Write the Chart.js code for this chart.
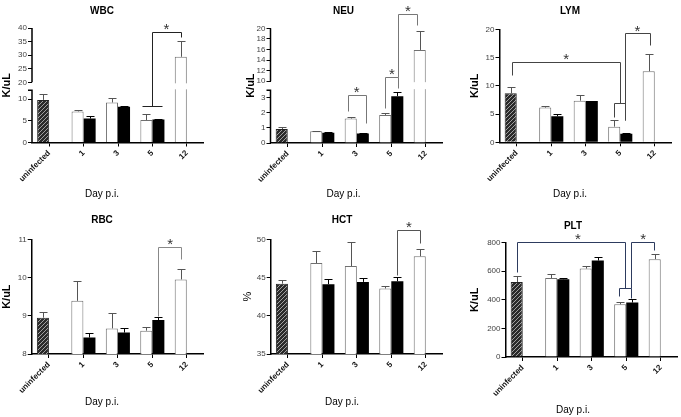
<!DOCTYPE html>
<html lang="en">
<head>
<meta charset="UTF-8">
<title>Blood counts after infection</title>
<style>
  body { margin: 0; background: #fff; }
  #fig { position: relative; width: 681px; height: 417px; overflow: hidden; }
  #fig canvas { position: absolute; }
</style>
<script src="https://cdn.jsdelivr.net/npm/chart.js@4"></script>
</head>
<body>
<div id="fig"></div>
<script>
// categories (x axis)
const days = ['uninfected', '1', '3', '5', '12'];

// open bars (index 0 = uninfected, drawn hatched) and filled bars, with upper error (SEM)
const wbcOpen = [9.8, 7.15, 9.2, 5.15, 29.4];
const wbcOpenErr = [1.35, 0.35, 1.0, 1.35, 5.7];
const wbcFilled = [null, 5.5, 8.2, 5.3, null];
const wbcFilledErr = [null, 0.6, 0.1, 0.1, null];
const wbcTicks = [0, 5, 10, 20, 25, 30, 35, 40];

const neuOpen = [0.92, 0.77, 1.62, 1.86, 15.9];
const neuOpenErr = [0.13, 0.03, 0.08, 0.11, 3.65];
const neuFilled = [null, 0.68, 0.63, 3.1, null];
const neuFilledErr = [null, 0.03, 0.03, 0.27, null];
const neuTicks = [0, 1, 2, 3, 10, 12, 14, 16, 18, 20];

const lymOpen = [8.67, 6.14, 7.37, 2.77, 12.57];
const lymOpenErr = [1.18, 0.36, 0.93, 1.18, 3.13];
const lymFilled = [null, 4.6, 7.3, 1.53, null];
const lymFilledErr = [null, 0.47, 0.07, 0.18, null];
const lymTicks = [0, 5, 10, 15, 20];

const rbcOpen = [8.95, 9.39, 8.67, 8.61, 9.95];
const rbcOpenErr = [0.16, 0.53, 0.39, 0.1, 0.27];
const rbcFilled = [null, 8.43, 8.56, 8.89, null];
const rbcFilledErr = [null, 0.11, 0.11, 0.08, null];
const rbcTicks = [8, 9, 10, 11];

const hctOpen = [44.2, 46.9, 46.5, 43.57, 47.78];
const hctOpenErr = [0.45, 1.6, 3.15, 0.3, 1.0];
const hctFilled = [null, 44.13, 44.43, 44.52, null];
const hctFilledErr = [null, 0.67, 0.57, 0.57, null];
const hctTicks = [35, 40, 45, 50];

const pltOpen = [525, 553, 619, 369, 685];
const pltOpenErr = [42, 28, 21, 19, 35];
const pltFilled = [null, 544, 675, 381, null];
const pltFilledErr = [null, 9, 24, 28, null];
const pltTicks = [0, 200, 400, 600, 800];

// significance brackets: polyline in (category index, value), star over the top bar
const wbcBrackets = [
  { path: [[2.7, 8.4], [3.27, 8.4]] },
  { path: [[3, 8.4], [3, 38.7], [3.84, 38.7], [3.84, 36.6]], star: [3.41, 38.7] }
];
const neuBrackets = [
  { path: [[1.74, 2.1], [1.74, 3.2], [2.27, 3.2], [2.27, 1.3]], star: [2.0, 3.2] },
  { path: [[2.83, 2.35], [2.83, 10.8], [3.21, 10.8], [3.21, 5]], star: [3.02, 10.8] },
  { path: [[3.21, 10.8], [3.21, 22.8], [3.76, 22.8], [3.76, 20.6]], star: [3.48, 22.8] }
];
const lymBrackets = [
  { path: [[-0.15, 11.9], [-0.15, 14.27], [3, 14.27], [3, 6.9]], star: [1.43, 14.27] },
  { path: [[2.81, 4.5], [2.81, 6.9], [3.15, 6.9], [3.15, 3.95]] },
  { path: [[3.15, 3.95], [3.15, 19.3], [3.855, 19.3], [3.855, 17.2]], star: [3.5, 19.3] }
];
const rbcBrackets = [
  { path: [[3.17, 9.0], [3.17, 10.8], [3.84, 10.8], [3.84, 10.49]], star: [3.52, 10.8] }
];
const hctBrackets = [
  { path: [[3.17, 45.3], [3.17, 51.26], [3.84, 51.26], [3.84, 49.56]], star: [3.51, 51.26] }
];
const pltBrackets = [
  { path: [[-0.18, 597], [-0.18, 805], [2.95, 805], [2.95, 480]], star: [1.6, 805] },
  { path: [[2.8, 428], [2.8, 480], [3.15, 480], [3.15, 416]] },
  { path: [[3.15, 480], [3.15, 805], [3.81, 805], [3.81, 752]], star: [3.49, 805] }
];

const NARROW = "'Liberation Sans Narrow', 'Arial Narrow', Arial, sans-serif";
const SANS = "'Liberation Sans', Arial, sans-serif";

// panel boxes in page pixels: canvas left/top, chart area, title and x title centres
const panels = [
  { id: 'wbc', title: 'WBC', yTitle: 'K/uL', open: wbcOpen, openErr: wbcOpenErr, filled: wbcFilled, filledErr: wbcFilledErr,
    ticks: wbcTicks, min: 0, max: 40, brk: { lo: 12, hi: 20, loFrac: 0.49, gap: 8 }, brackets: wbcBrackets, bracketColor: '#222',
    box: { L: 0, T: 0, CL: 32, CR: 204, CT: 28, CB: 142.5, titleY: 11, xTitleY: 193.5 } },
  { id: 'neu', title: 'NEU', yTitle: 'K/uL', open: neuOpen, openErr: neuOpenErr, filled: neuFilled, filledErr: neuFilledErr,
    ticks: neuTicks, min: 0, max: 20, brk: { lo: 3.5, hi: 10, loFrac: 0.5, gap: 9 }, brackets: neuBrackets, bracketColor: '#777',
    box: { L: 244, T: 0, CL: 270.5, CR: 442.5, CT: 28.3, CB: 143, titleY: 11, xTitleY: 194.3 } },
  { id: 'lym', title: 'LYM', yTitle: 'K/uL', open: lymOpen, openErr: lymOpenErr, filled: lymFilled, filledErr: lymFilledErr,
    ticks: lymTicks, min: 0, max: 20, brackets: lymBrackets, bracketColor: '#444',
    box: { L: 468, T: 0, CL: 499.5, CR: 671.5, CT: 29.3, CB: 142.3, titleY: 11, xTitleY: 194.3 } },
  { id: 'rbc', title: 'RBC', yTitle: 'K/uL', open: rbcOpen, openErr: rbcOpenErr, filled: rbcFilled, filledErr: rbcFilledErr,
    ticks: rbcTicks, min: 8, max: 11, brackets: rbcBrackets, bracketColor: '#888',
    box: { L: 0, T: 200, CL: 31.7, CR: 204, CT: 239.3, CB: 354, titleY: 220.7, xTitleY: 401.7 } },
  { id: 'hct', title: 'HCT', yTitle: '%', open: hctOpen, openErr: hctOpenErr, filled: hctFilled, filledErr: hctFilledErr,
    ticks: hctTicks, min: 35, max: 50, brackets: hctBrackets, bracketColor: '#555',
    box: { L: 241, T: 200, CL: 270.7, CR: 443, CT: 239.3, CB: 354, titleY: 220.7, xTitleY: 401.7 } },
  { id: 'plt', title: 'PLT', yTitle: 'K/uL', open: pltOpen, openErr: pltOpenErr, filled: pltFilled, filledErr: pltFilledErr,
    ticks: pltTicks, min: 0, max: 800, brackets: pltBrackets, bracketColor: '#2d3b5e', tickFont: SANS,
    box: { L: 468, T: 200, CL: 505.5, CR: 677.5, CT: 242.7, CB: 357, titleY: 226.7, xTitleY: 410 } }
];
const byId = {};
panels.forEach(p => { byId[p.id] = p; });

// linear scale with a gap between brk.lo and brk.hi (broken y axis)
const Linear = Chart.LinearScale || Chart.registry.getScale('linear');
class BrokenScale extends Linear {
  parts() {
    const b = byId[this.chart.canvas.id].brk;
    const h = this.bottom - this.top - b.gap;
    const loH = h * b.loFrac;
    return { b, loH, hiH: h - loH, loTop: this.bottom - loH, hiBot: this.top + (h - loH) };
  }
  getPixelForValue(v) {
    if (v === null || v === undefined || isNaN(v)) return NaN;
    const p = this.parts(), b = p.b;
    if (v <= b.lo) return this.bottom - (v - this.min) / (b.lo - this.min) * p.loH;
    if (v >= b.hi) return p.hiBot - (v - b.hi) / (this.max - b.hi) * p.hiH;
    return p.loTop - (v - b.lo) / (b.hi - b.lo) * b.gap;
  }
  getValueForPixel(px) {
    const p = this.parts(), b = p.b;
    if (px >= p.loTop) return this.min + (this.bottom - px) / p.loH * (b.lo - this.min);
    if (px <= p.hiBot) return b.hi + (p.hiBot - px) / p.hiH * (this.max - b.hi);
    return b.lo + (p.loTop - px) / b.gap * (b.hi - b.lo);
  }
}
BrokenScale.id = 'broken';
BrokenScale.defaults = Linear.defaults;
Chart.register(BrokenScale);

function makeHatch(ctx) {
  const tile = document.createElement('canvas');
  tile.width = tile.height = 4;
  const g = tile.getContext('2d');
  g.fillStyle = '#2a2a2a';
  g.fillRect(0, 0, 4, 4);
  g.fillStyle = '#a0a0a0';
  for (let i = 0; i < 4; i++) g.fillRect(i, 3 - i, 1, 1);
  return ctx.createPattern(tile, 'repeat');
}

// error bars, axis break and significance brackets
const decor = {
  id: 'decor',
  afterDatasetsDraw(chart) {
    const p = byId[chart.canvas.id];
    const ctx = chart.ctx, a = chart.chartArea;
    const xs = chart.scales.x, ys = chart.scales.y;
    const crisp = v => Math.round(v) + 0.5;
    ctx.save();
    ctx.lineWidth = 1;

    [[p.open, p.openErr, '#555'], [p.filled, p.filledErr, '#000']].forEach(([vals, errs, col], di) => {
      const meta = chart.getDatasetMeta(di);
      errs.forEach((e, i) => {
        if (e == null) return;
        const bar = meta.data[i];
        const cx = crisp(bar.x), top = crisp(ys.getPixelForValue(vals[i] + e));
        ctx.strokeStyle = col;
        ctx.beginPath();
        ctx.moveTo(cx, bar.y);
        ctx.lineTo(cx, top);
        ctx.moveTo(cx - 4, top);
        ctx.lineTo(cx + 4, top);
        ctx.stroke();
      });
    });

    if (p.brk) {
      const hiBot = ys.getPixelForValue(p.brk.hi), loTop = ys.getPixelForValue(p.brk.lo);
      ctx.fillStyle = '#fff';
      ctx.fillRect(a.left + 1, hiBot + 1, a.right - a.left, loTop - hiBot - 2);
      ctx.strokeStyle = '#000';
      ctx.lineWidth = 1.5;
      ctx.beginPath();
      ctx.moveTo(a.left, a.bottom);
      ctx.lineTo(a.left, loTop);
      ctx.lineTo(a.left - 4, loTop);
      ctx.moveTo(a.left, hiBot);
      ctx.lineTo(a.left, a.top);
      ctx.stroke();
    }

    ctx.lineWidth = 1;
    p.brackets.forEach(b => {
      ctx.strokeStyle = p.bracketColor;
      ctx.beginPath();
      b.path.forEach(([x, y], k) => {
        const X = crisp(xs.getPixelForValue(x)), Y = crisp(ys.getPixelForValue(y));
        if (k) ctx.lineTo(X, Y); else ctx.moveTo(X, Y);
      });
      ctx.stroke();
      if (b.star) {
        ctx.fillStyle = '#333';
        ctx.font = '15px ' + SANS;
        ctx.textAlign = 'center';
        ctx.textBaseline = 'alphabetic';
        ctx.fillText('*', xs.getPixelForValue(b.star[0]), ys.getPixelForValue(b.star[1]) + 2.5);
      }
    });
    ctx.restore();
  }
};

function makeChart(p) {
  const b = p.box;
  const W = Math.round(b.CR - b.L), H = Math.round(b.xTitleY + 6 - b.T);
  const tTop = b.titleY - b.T - 6;
  const tBottom = b.CT - b.T - tTop - 12;
  const yWidth = b.CL - b.L, xHeight = b.T + H - 12 - b.CB;

  const cv = document.createElement('canvas');
  cv.id = p.id;
  cv.width = W;
  cv.height = H;
  cv.style.left = b.L + 'px';
  cv.style.top = b.T + 'px';
  document.getElementById('fig').appendChild(cv);
  const ctx = cv.getContext('2d');
  const hatch = makeHatch(ctx);

  return new Chart(ctx, {
    type: 'bar',
    data: {
      labels: days,
      datasets: [
        { data: p.open, backgroundColor: p.open.map((v, i) => i === 0 ? hatch : '#fff'),
          borderColor: p.open.map((v, i) => i === 0 ? '#222' : '#707070'), borderWidth: 1 },
        { data: p.filled, backgroundColor: '#000', borderColor: '#000', borderWidth: 0 }
      ]
    },
    options: {
      responsive: false,
      animation: false,
      categoryPercentage: 0.7,
      barPercentage: 1.0,
      layout: { padding: 0 },
      plugins: {
        legend: { display: false },
        tooltip: { enabled: false },
        title: { display: true, text: p.title, color: '#000', padding: { top: tTop, bottom: tBottom },
                 font: { family: NARROW, size: 10, weight: 'bold', lineHeight: 1.2 } },
        subtitle: { display: true, position: 'bottom', text: 'Day p.i.', color: '#000', padding: 0,
                    font: { family: NARROW, size: 10, weight: 'normal', lineHeight: 1.2 } }
      },
      scales: {
        x: {
          afterFit: s => { s.height = xHeight; },
          grid: { drawOnChartArea: false, offset: false, color: '#000', tickLength: 4 },
          border: { color: '#000', width: 1.5 },
          ticks: { autoSkip: false, minRotation: 45, maxRotation: 45, padding: 2, color: '#111',
                   font: { family: SANS, size: 8, weight: 'bold' } }
        },
        y: {
          type: p.brk ? 'broken' : 'linear',
          min: p.min,
          max: p.max,
          afterBuildTicks: s => { s.ticks = p.ticks.map(v => ({ value: v })); },
          afterFit: s => { s.width = yWidth; },
          grid: { drawOnChartArea: false, color: '#000', tickLength: 4 },
          border: { display: !p.brk, color: '#000', width: 1.5 },
          ticks: { autoSkip: false, padding: 1, color: '#444', callback: v => v,
                   font: { family: p.tickFont || NARROW, size: 8 } },
          title: { display: true, text: p.yTitle, color: '#000', padding: 0,
                   font: { family: SANS, size: 11, weight: p.yTitle === '%' ? 'normal' : 'bold', lineHeight: 1.2 } }
        }
      }
    },
    plugins: [decor]
  });
}

panels.forEach(makeChart);
</script>
</body>
</html>
